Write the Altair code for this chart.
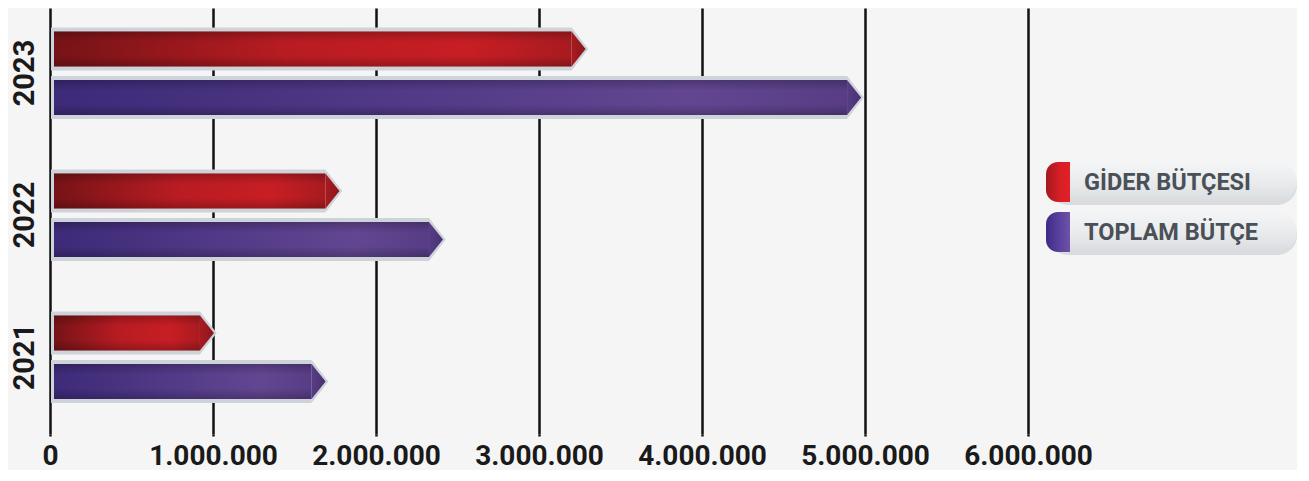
import altair as alt
import pandas as pd

# ---- data ----
years = ["2023", "2022", "2021"]
series = ["GİDER BÜTÇESI", "TOPLAM BÜTÇE"]
gider = [3200000, 1690000, 920000]
toplam = [4890000, 2325000, 1605000]
tick_values = [0, 1000000, 2000000, 3000000, 4000000, 5000000, 6000000]

rows = []
for yr, g, t in zip(years, gider, toplam):
    rows.append({"year": yr, "series": series[0], "value": g})
    rows.append({"year": yr, "series": series[1], "value": t})
df = pd.DataFrame(rows)

FONT = "Roboto, Liberation Sans, sans-serif"
W, H = 978, 426
BORDER = "#cdd3d9"


def lin(stops, vertical=False):
    return {
        "gradient": "linear",
        "x1": 0, "y1": 0,
        "x2": 0 if vertical else 1, "y2": 1 if vertical else 0,
        "stops": [{"offset": o, "color": c} for o, c in stops],
    }


grad_bar = {
    series[0]: lin([(0, "#761317"), (0.45, "#b81c22"), (0.8, "#c71e24"), (1, "#a81b20")]),
    series[1]: lin([(0, "#3d2a78"), (0.45, "#523a88"), (0.8, "#624691"), (1, "#583d86")]),
}
grad_tip = {
    series[0]: lin([(0, "#a81b20"), (1, "#8a171b")]),
    series[1]: lin([(0, "#583d86"), (1, "#47316f")]),
}
shade = lin([(0, "rgba(0,0,0,0.22)"), (0.3, "rgba(0,0,0,0)"),
             (0.7, "rgba(0,0,0,0)"), (1, "rgba(0,0,0,0.22)")], vertical=True)

TIP_OUT = "M0,-1L0.78,0L0,1Z"
TIP_IN = "M0,-1L0.8,0L0,1Z"

x_enc = alt.X(
    "value:Q",
    scale=alt.Scale(domain=[0, 6000000], nice=False, zero=True),
    axis=alt.Axis(
        values=tick_values,
        labelExpr="replace(format(datum.value, ','), regexp(',', 'g'), '.')",
        grid=True, gridColor="#111111", gridWidth=2.5,
        ticks=True, tickColor="#111111", tickWidth=2.5, tickSize=2,
        domain=False, title=None,
        labelFont=FONT, labelFontSize=28, labelFontWeight="bold",
        labelColor="#1a1a1a", labelPadding=6, labelFlush=False,
        labelOverlap=False,
    ),
)
y_enc = alt.Y(
    "year:N", sort=years,
    scale=alt.Scale(paddingInner=0, paddingOuter=0),
    axis=alt.Axis(
        title=None, ticks=False, domain=False, labelAngle=270,
        labelAlign="center", labelBaseline="alphabetic", labelPadding=17,
        labelOffset=-6, labelFont=FONT, labelFontSize=29,
        labelFontWeight="bold", labelColor="#1a1a1a",
    ),
)
yoff = alt.YOffset(
    "series:N", sort=series,
    scale=alt.Scale(paddingInner=0.196, paddingOuter=0.562, align=0.394),
)

base = alt.Chart(df).encode(y=y_enc, yOffset=yoff)

layers = []
for s in series:
    f = base.transform_filter(alt.datum.series == s)
    layers.append(f.mark_bar(size=43, fill=BORDER, x2Offset=1)
                  .encode(x=x_enc, x2=alt.datum(0)))
    layers.append(f.mark_point(shape=TIP_OUT, size=43 * 43, filled=True,
                               fill=BORDER, opacity=1, strokeWidth=0)
                  .encode(x=x_enc))
    layers.append(f.mark_bar(size=35, fill=grad_bar[s], x2Offset=4)
                  .encode(x=x_enc, x2=alt.datum(0)))
    layers.append(f.mark_bar(size=35, fill=shade, x2Offset=4)
                  .encode(x=x_enc, x2=alt.datum(0)))
    layers.append(f.mark_point(shape=TIP_IN, size=35 * 35, filled=True,
                               fill=grad_tip[s], opacity=1, strokeWidth=0)
                  .encode(x=x_enc))

main = alt.layer(*layers).properties(width=W, height=H)

# ---- custom legend panel ----
leg_df = pd.DataFrame({"series": series})
LW = 251
slots = ["_a", "_b", "_c"] + series + ["_d", "_e", "_f"]
ly = alt.Y("series:N", axis=None,
           scale=alt.Scale(domain=slots, paddingInner=0.2, paddingOuter=0.36,
                           align=0.111))
lbase = alt.Chart(leg_df).encode(y=ly)
pill = lin([(0, "#f4f5f6"), (0.55, "#e8eaec"), (1, "#d9dcdf")], vertical=True)
cap_grad = {
    series[0]: lin([(0, "#a3191e"), (0.6, "#d81f26"), (1, "#e32027")]),
    series[1]: lin([(0, "#3d2b86"), (0.6, "#5d43a0"), (1, "#6e52a6")]),
}
leg_layers = [
    lbase.mark_bar(size=40, cornerRadius=20, fill="#a9adb1", opacity=0.35,
                   yOffset=3).encode(x=alt.value(2), x2=alt.value(LW)),
    lbase.mark_bar(size=40, cornerRadius=20, fill=pill)
         .encode(x=alt.value(0), x2=alt.value(LW)),
]
for s in series:
    leg_layers.append(
        lbase.transform_filter(alt.datum.series == s)
        .mark_bar(size=40, cornerRadiusTopLeft=20, cornerRadiusBottomLeft=20,
                  fill=cap_grad[s])
        .encode(x=alt.value(0), x2=alt.value(24))
    )
leg_layers.append(
    lbase.mark_text(align="left", baseline="middle", font=FONT, fontSize=23.5,
                    fontWeight="bold", color="#4a5057", dy=1)
         .encode(x=alt.value(38), text="series:N")
)
legend = alt.layer(*leg_layers).properties(width=LW, height=H)

chart = (
    alt.hconcat(main, legend, spacing=18, bounds="flush")
    .properties(padding={"left": 2, "top": 0, "right": 0, "bottom": 0},
                background="#f5f5f6")
    .configure_view(stroke=None)
)

chart.save("out.html", embed_options={"renderer": "svg", "actions": False})
